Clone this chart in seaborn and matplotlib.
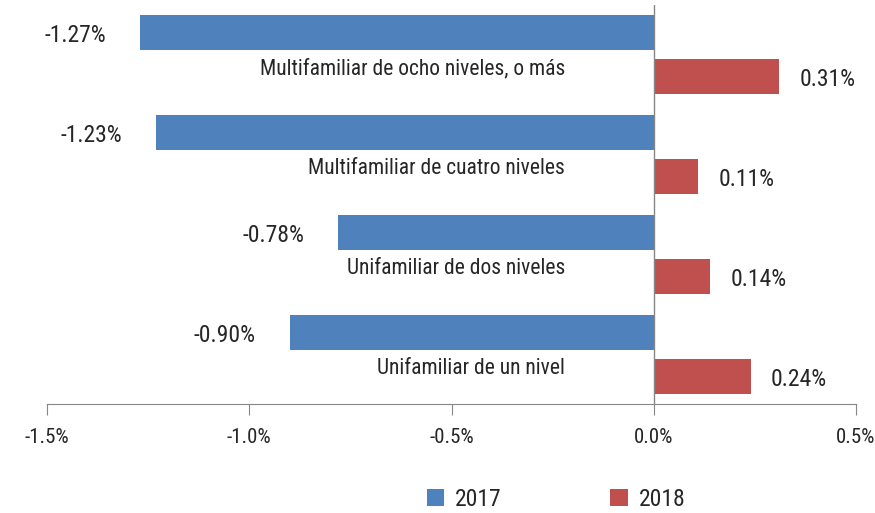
import pandas as pd
import matplotlib.pyplot as plt
import numpy as np
import seaborn as sns
from matplotlib.font_manager import fontManager

# datos
categorias = ['Multifamiliar de ocho niveles, o más',
              'Multifamiliar de cuatro niveles',
              'Unifamiliar de dos niveles',
              'Unifamiliar de un nivel']
valores_2017 = [-1.27, -1.23, -0.78, -0.90]
valores_2018 = [0.31, 0.11, 0.14, 0.24]
anios = ['2017', '2018']
ticks_x = [-1.5, -1.0, -0.5, 0.0, 0.5]

df = pd.DataFrame({
    'categoria': categorias * 2,
    'anio': [anios[0]] * 4 + [anios[1]] * 4,
    'valor': valores_2017 + valores_2018,
})

sns.set_style('white')
nombres = {f.name for f in fontManager.ttflist}
fuente = [f for f in ['Liberation Sans Narrow', 'Roboto Condensed', 'Liberation Sans', 'DejaVu Sans'] if f in nombres]
plt.rcParams['font.family'] = fuente

fig = plt.figure(figsize=(8.75, 5.13), dpi=100)
ax = fig.add_axes([47 / 875, 1 - 404 / 513, 809 / 875, 399 / 513])

sns.barplot(data=df, y='categoria', x='valor', hue='anio',
            palette=['#4F81BD', '#C0504D'], saturation=1, orient='h',
            width=0.88, gap=0.2, linewidth=0, ax=ax, legend=True)

ax.set_xlim(-1.5, 0.5)
ax.set_ylim(3.5, -0.5)
ax.axvline(0, color='#868686', linewidth=1)

# etiquetas de datos
for i, (v1, v2) in enumerate(zip(valores_2017, valores_2018)):
    ax.text(v1 - 0.084, i - 0.19, f'{v1:.2f}%', ha='right', va='center', fontsize=17)
    ax.text(v2 + 0.05, i + 0.25, f'{v2:.2f}%', ha='left', va='center', fontsize=17)
    ax.text(-0.22, i + 0.14, categorias[i], ha='right', va='center', fontsize=15.5)

ax.set_xticks(ticks_x)
ax.set_xticklabels([f'{t:.1f}%' for t in ticks_x], fontsize=15)
ax.set_yticks([])
ax.set_xlabel('')
ax.set_ylabel('')
ax.tick_params(axis='x', direction='out', length=8, color='#868686', bottom=True, pad=9)
for s in ['top', 'right', 'left']:
    ax.spines[s].set_visible(False)
ax.spines['bottom'].set_color('#868686')

h, l = ax.get_legend_handles_labels()
ax.legend_.remove()
fig.legend(h, l, loc='center', bbox_to_anchor=(556 / 875, 1 - 499 / 513), ncol=2,
           frameon=False, fontsize=17, handlelength=0.75, handleheight=0.75,
           columnspacing=4.6, handletextpad=0.45)

plt.savefig('out.png', dpi=100)
